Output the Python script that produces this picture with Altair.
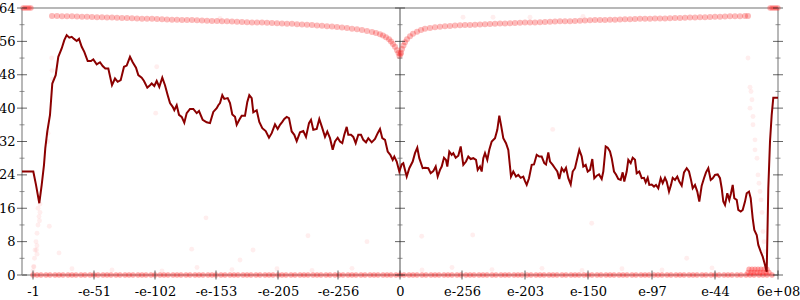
import json
import altair as alt
import pandas as pd

# ---------------- data (x in ordinal units 0..756 across the plot) ----------------
X_MAX = 756
Y_MAX = 64
x_ticks = [11, 72, 133, 194, 256, 316, 378, 440, 503, 566, 630, 693, 756]
x_labels = ["-1", "-e-51", "-e-102", "-e-153", "-e-205", "-e-256", "0",
            "e-256", "e-203", "e-150", "e-97", "e-44", "6e+08"]
y_major = [0, 8, 16, 24, 32, 40, 48, 56, 64]
y_minor = [4, 12, 20, 28, 36, 44, 52, 60]
axis_positions = [0, 378, 756]

line_x = [0, 11.3, 14, 17.3, 19.7, 22, 23.3, 25.3, 28, 30.3, 33.7, 36.3, 39.7, 42.3, 44.7,
          47.3, 49.7, 52, 54.7, 57, 59.7, 62.3, 65.7, 69, 71.3, 74.7, 78, 80.7, 83.3, 86.3,
          90, 93, 95.7, 98.7, 102, 104.7, 108, 110.7, 114, 116.3, 119.7, 122, 125.3, 128,
          129.7, 132.3, 134.7, 137.3, 140.3, 143, 145.7, 148, 150.7, 152.3, 154.7, 157,
          159.7, 162.3, 164.7, 168, 171.3, 174.7, 177, 180.7, 184.7,
          188, 191.3, 194.7, 196.3, 198, 200.3, 202.3, 205.7, 208, 210.3, 213, 214.7, 217.3,
          219.7, 223, 225.3, 227.3, 229.7, 231.3, 234.7, 237.3, 240.3, 243.7, 247, 249.7, 253,
          255.7, 258, 260.3, 262.3, 264.7, 267, 269.7, 272.3, 274.7, 278, 281.3, 284, 287, 289,
          291.3, 294.7, 297.3, 300.3, 303, 305.3, 308, 310.7, 313, 315.7, 318, 320.3, 322.3,
          324.7, 326.3, 329, 331.3, 333.7, 336.3, 339, 341.3, 344, 346.3, 349.7, 353, 355.7,
          358, 360.3, 363, 365.7, 368.3, 370.7, 372.3, 374.7, 377.3, 379.7,
          381.3, 384.7, 387.3, 390.7, 393, 395.3, 397.3, 400.7, 403, 406.3, 408.7, 411.3,
          413.7, 415.7, 418, 419.7, 422, 424, 425.3, 427.3, 429.7, 431.3, 433.7, 436.3, 438.7,
          441.3, 444, 446.3, 448.7, 451.3, 454, 455.7, 458, 459.7, 461.3, 463, 465.3, 467.3,
          469.7, 473, 475.3, 477.3, 479, 481.3, 484, 486.3, 489, 491.3, 494, 496.3, 498.7,
          501.3, 503, 504.7, 507, 509.7, 512, 514.7, 517.3, 519.7, 522.3, 524, 526.3, 528,
          530.7, 533, 535.3, 537.3, 539.7, 542, 544, 546.3, 548.7, 550.7, 553, 555.3, 557.3,
          559.7, 561.3, 563.7, 565.7, 568,
          570.3, 572.3, 574.7, 577, 579.7, 581.3, 583.7, 585.7, 588, 589.7, 592, 594, 596.3,
          598.7, 600.7, 602.3, 604.7, 606.3, 608.7, 610.7, 613, 614.7, 617.3, 619.7, 622,
          623.7, 625.7, 627.3, 629.7, 632, 634, 636.3, 638.7, 640.7, 643, 644.7, 647, 649,
          650.7, 653, 655.3, 657.3, 659.7, 662, 664.7, 667, 669, 670.7, 673, 675.3, 677.3,
          679.7, 682, 684, 686.3, 688.7, 690.7, 693, 695.7, 698, 699.7, 701.3, 703, 705.3,
          707.3, 709, 710.7, 712.3, 714.7, 716.3, 718.7, 720.7, 723, 724.7, 727, 728.7, 730.7,
          732.3, 734.7, 736.3, 738.7, 740.7, 743, 744.7, 746.3, 748, 749.7, 751.3, 756]
line_y = [24.8, 24.8, 21.6, 17.2, 21.6, 26.4, 30.4, 34.4, 38.4, 45.9, 47.9, 52.3, 54.3, 56.3, 57.5,
          56.9, 57.1, 56.6, 56.1, 56.6, 54.7, 53.5, 51.3, 51.3, 51.7, 50.5, 51.0, 50.1, 49.5, 49.5,
          45.5, 47.1, 46.3, 46.7, 49.9, 50.2, 52.3, 51.0, 49.7, 47.9, 47.3, 46.5, 44.9, 45.5,
          45.9, 45.3, 46.5, 45.1, 47.3, 45.5, 43.1, 41.2, 40.3, 39.5, 40.7, 38.4,
          37.9, 36.5, 38.8, 39.8, 39.8, 38.8, 39.3, 37.2, 36.6,
          36.4, 39.1, 40.0, 40.7, 41.2, 43.1, 42.2, 42.4, 41.2, 38.5, 37.9, 36.0, 37.2,
          38.2, 38.2, 41.5, 43.1, 42.4, 39.0, 39.5, 36.7, 35.2, 34.5, 32.9, 34.0, 36.1,
          35.0, 36.0, 36.7, 37.4, 37.9, 37.6, 34.4, 33.6, 32.1, 34.2, 34.5, 33.1, 36.4, 37.2,
          34.8, 35.0, 37.4, 35.2, 33.1, 34.4, 32.8, 30.0, 32.0, 32.9, 32.0, 31.6, 33.6,
          35.5, 33.6, 33.6, 33.1, 31.6, 33.6, 33.6, 32.4, 31.8, 32.8, 31.8, 32.6, 34.0,
          35.0, 32.8, 32.4, 29.6, 28.8, 27.6, 28.4, 27.2, 24.8, 26.5,
          26.8, 23.6, 25.6, 27.2, 29.2, 30.5, 28.0, 25.6, 25.7, 25.6, 24.4, 24.9,
          26.0, 23.6, 25.2, 26.0, 28.1, 27.6, 26.0, 29.6, 28.8, 29.2, 28.1, 28.6, 30.8,
          26.4, 27.2, 28.4, 27.8, 28.0, 27.6, 25.2, 26.0, 24.8, 28.0, 29.2, 27.6, 30.0,
          32.0, 32.8, 34.8, 38.2, 36.0, 32.8, 31.6, 30.0, 23.6, 24.8, 23.6, 24.0, 23.3,
          23.6, 22.5, 21.6, 23.2, 26.4, 26.5, 28.8, 28.4, 28.4, 26.8, 26.5, 29.4, 27.2,
          26.4, 25.6, 24.8, 23.0, 25.6, 24.8, 25.7, 23.2, 21.7, 24.8, 25.6, 28.0, 30.0,
          28.4, 26.0, 26.4, 24.8, 25.2,
          27.8, 23.2, 23.8, 24.1, 23.0, 24.8, 30.8, 30.5, 29.6, 28.0, 24.8, 24.1, 23.0,
          22.8, 24.6, 22.4, 24.8, 27.6, 26.8, 28.1, 27.6, 24.4, 24.8, 23.2, 23.3,
          22.2, 23.3, 21.6, 21.7, 21.2, 21.6, 20.8, 23.2, 22.0, 23.3, 22.4, 20.0, 21.6,
          23.3, 22.8, 23.6, 22.4, 21.4, 24.6, 25.6, 24.8, 22.8, 20.8, 21.6, 20.0, 17.6,
          21.4, 23.2, 24.6, 25.6, 22.8, 23.2, 24.0, 24.1, 23.2, 20.8, 17.6, 16.8, 19.6,
          18.0, 19.6, 21.6, 18.4, 18.0, 15.6, 15.2, 15.6, 17.6, 19.6, 20.0, 18.4, 13.6,
          10.8, 9.6, 7.2, 5.6, 4.4, 2.4, 0.8, 20.8, 32.0, 38.4, 42.5, 42.5]

band_left_x = [30, 35, 40, 45, 50, 55, 60, 65, 70, 75, 80, 85, 90, 95, 100, 105, 110, 115, 120,
               125, 130, 135, 140, 145, 150, 155, 160, 165, 170, 175, 180, 185, 190, 195, 200,
               205, 210, 215, 220, 225, 230, 235, 240, 245, 250, 255, 260, 265, 270, 275, 280,
               285, 290, 295, 300, 305, 310, 315, 320, 325, 330, 335, 340, 345, 350, 354, 358,
               361, 364, 367, 369, 371, 373, 375, 376.5, 377.5]
band_left_y = [62.1, 62.1, 62.05, 62.0, 62.0, 61.95, 61.9, 61.9, 61.85, 61.8, 61.8, 61.75, 61.7,
               61.65, 61.6, 61.6, 61.55, 61.5, 61.45, 61.4, 61.4, 61.35, 61.3, 61.25, 61.2, 61.2,
               61.15, 61.1, 61.1, 61.05, 61.0, 60.95, 60.9, 60.9, 60.85, 60.8, 60.75, 60.7, 60.65,
               60.6, 60.55, 60.5, 60.5, 60.45, 60.4, 60.35, 60.3, 60.25, 60.2, 60.1, 60.05, 60.0,
               59.9, 59.8, 59.75, 59.65, 59.55, 59.45, 59.35, 59.2, 59.05, 58.9, 58.7, 58.5,
               58.25, 58.0, 57.7, 57.4, 57.0, 56.5, 56.0, 55.4, 54.7, 53.9, 53.2, 52.5]
band_right_x = [378.5, 379, 380, 381.5, 383, 385, 388, 391, 395, 399, 403, 408, 413, 418, 423,
                428, 433, 438, 443, 448, 453, 458, 463, 468, 473, 478, 483, 488, 493, 498, 503,
                508, 513, 518, 523, 528, 533, 538, 543, 548, 553, 558, 563, 568, 573, 578, 583,
                588, 593, 598, 603, 608, 613, 618, 623, 628, 633, 638, 643, 648, 653, 658, 663,
                668, 673, 678, 683, 688, 693, 698, 703, 708, 713, 718, 723, 726]
band_right_y = [53.0, 53.3, 54.2, 55.0, 55.8, 56.5, 57.2, 57.8, 58.3, 58.7, 59.0, 59.2, 59.4,
                59.5, 59.6, 59.7, 59.8, 59.85, 59.9, 59.95, 60.0, 60.05, 60.1, 60.15, 60.2, 60.3,
                60.3, 60.35, 60.4, 60.45, 60.5, 60.5, 60.55, 60.6, 60.65, 60.7, 60.75, 60.8,
                60.8, 60.85, 60.9, 60.95, 61.0, 61.05, 61.1, 61.1, 61.15, 61.2, 61.2, 61.25,
                61.3, 61.3, 61.35, 61.4, 61.4, 61.45, 61.5, 61.5, 61.5, 61.55, 61.6, 61.6,
                61.65, 61.7, 61.75, 61.8, 61.8, 61.85, 61.9, 61.9, 61.95, 62.0, 62.0, 62.05,
                62.1, 62.1]

zero_x = [11, 15, 19, 24, 28, 33, 37, 41, 46, 50, 54, 59, 63, 68, 72, 76, 81, 85, 89, 94, 98,
          103, 107, 111, 116, 120, 124, 129, 133, 138, 142, 146, 151, 155, 159, 164, 168, 173,
          177, 181, 186, 190, 194, 199, 203, 208, 212, 216, 221, 225, 229, 234, 238, 243, 247,
          251, 256, 260, 264, 269, 273, 278, 282, 286, 291, 295, 299, 304, 308, 313, 317, 321,
          326, 330, 334, 339, 343, 348, 352, 356, 361, 365, 369, 374, 378, 382, 387, 391, 395,
          400, 404, 409, 413, 417, 422, 426, 430, 435, 439, 444, 448, 452, 457, 461, 465, 470,
          474, 479, 483, 487, 492, 496, 500, 505, 509, 514, 518, 522, 527, 531, 535, 540, 544,
          549, 553, 557, 562, 566, 570, 575, 579, 584, 588, 592, 597, 601, 605, 610, 614, 619,
          623, 627, 632, 636, 640, 645, 649, 654, 658, 662, 667, 671, 675, 680, 684, 689, 693,
          697, 702, 706, 710, 715, 719, 724, 728, 732, 737, 741, 745, 750]

corner_x = [1, 3, 5, 7, 9, 748, 750, 752, 754, 756]
corner_y = [64, 64, 64, 64, 64, 64, 64, 64, 64, 64]

cluster_x = [726, 729, 732, 735, 738, 741, 744, 747, 727, 730, 733, 736, 739, 742, 745]
cluster_y = [0.6, 0.6, 0.6, 0.6, 0.6, 0.6, 0.6, 0.6, 1.4, 1.4, 1.4, 1.4, 1.4, 1.4, 1.4]

faint_x = [29.7, 30, 30.5, 26, 25.5, 18, 18, 17.5, 15, 14.5, 15, 11.5, 11, 16, 17, 16, 15, 14,
           13, 12.5, 12, 27.3, 37, 726, 728, 730, 731, 733, 728, 731, 735, 736, 738, 740, 741,
           743, 729, 733, 737, 739, 742, 744, 134.7, 133.7, 184, 169.7, 231, 286, 345, 218,
           530.7, 399.7, 450.7, 569.7, 664.7, 441, 471, 508, 561, 198, 50, 90, 140, 175, 210,
           255, 290, 330, 400, 430, 470, 520, 560, 600, 640, 690]
faint_y = [52, 49, 47, 34, 32, 17, 15, 13, 7, 6, 5, 2, 1, 16, 14, 12, 10, 8, 6, 4, 2, 11.7,
           5.3, 52, 45, 42, 38, 32.4, 40, 36, 28, 24, 20, 15, 10.4, 5.6, 44, 30, 22, 18, 8, 3,
           49.9, 38.8, 13.7, 6.2, 6.0, 9.4, 8.0, 3.6, 34.9, 9.3, 9.6, 12.4, 4.0, 61.8, 61.8,
           61.8, 62.0, 61.5, 1.5, 1.2, 1.0, 1.8, 1.3, 1.5, 1.1, 1.6, 1.2, 1.8, 1.3, 1.6, 1.1,
           1.5, 1.2, 1.7]

# ---------------- tables ----------------
line_df = pd.DataFrame({"x": line_x, "y": line_y})
band_df = pd.DataFrame({"x": band_left_x + band_right_x, "y": band_left_y + band_right_y})
zero_df = pd.DataFrame({"x": zero_x, "y": [0] * len(zero_x)})
corner_df = pd.DataFrame({"x": corner_x + cluster_x, "y": corner_y + cluster_y})
faint_df = pd.DataFrame({"x": faint_x, "y": faint_y})
vborder_df = pd.DataFrame({"x": [0, X_MAX], "y": [0, 0], "y2": [Y_MAX, Y_MAX]})
mid_df = pd.DataFrame({"x": [x_ticks[6]], "y": [0], "y2": [Y_MAX]})
hborder_df = pd.DataFrame({"x": [0, 0], "x2": [X_MAX, X_MAX], "y": [0, Y_MAX]})
ymaj_df = pd.DataFrame([{"x": p, "y": v} for p in axis_positions for v in y_major])
ymin_df = pd.DataFrame([{"x": p, "y": v} for p in axis_positions for v in y_minor])
xtick_df = pd.DataFrame({"x": x_ticks, "y": [0] * len(x_ticks)})

xs = alt.Scale(domain=[0, X_MAX], nice=False, zero=False)
ys = alt.Scale(domain=[0, Y_MAX], nice=False, zero=False)

label_expr = "%s[indexof(%s, datum.value)]" % (json.dumps(x_labels), json.dumps(x_ticks))
FONT = "DejaVu Serif"

AX_X = alt.Axis(values=x_ticks, labelExpr=label_expr, ticks=False, domain=False, grid=False,
                labelFont=FONT, labelFontSize=13, labelColor="#000", labelPadding=10,
                labelFlush=False, labelOverlap=False, title=None)
AX_Y = alt.Axis(values=y_major, ticks=False, domain=False, grid=False,
                labelFont=FONT, labelFontSize=13, labelColor="#000", labelPadding=7,
                labelFlush=False, labelOverlap=False, title=None)


def X():
    return alt.X("x:Q", scale=xs, axis=AX_X)


def Y():
    return alt.Y("y:Q", scale=ys, axis=AX_Y)


vborders = alt.Chart(vborder_df).mark_rule(color="#b8b8b8", strokeWidth=2).encode(
    x=X(), y=Y(), y2="y2:Q")
hborders = alt.Chart(hborder_df).mark_rule(color="#b8b8b8", strokeWidth=2).encode(
    x=X(), x2="x2:Q", y=Y())
mid = alt.Chart(mid_df).mark_rule(color="#8a8a8a", strokeWidth=1.5).encode(
    x=X(), y=Y(), y2="y2:Q")
ymaj = alt.Chart(ymaj_df).mark_tick(orient="horizontal", size=10, thickness=1, color="#222").encode(
    x=X(), y=Y())
ymin = alt.Chart(ymin_df).mark_tick(orient="horizontal", size=5, thickness=1, color="#666").encode(
    x=X(), y=Y())
xt = alt.Chart(xtick_df).mark_tick(orient="vertical", size=9, thickness=1, color="#222").encode(
    x=X(), y=Y())

faint = alt.Chart(faint_df).mark_circle(size=24, color="#ff2020", opacity=0.08).encode(x=X(), y=Y())
band = alt.Chart(band_df).mark_circle(size=36, color="#f52525", opacity=0.32).encode(x=X(), y=Y())
zero = alt.Chart(zero_df).mark_circle(size=30, color="#ff2020", opacity=0.4).encode(x=X(), y=Y())
corner = alt.Chart(corner_df).mark_circle(size=28, color="#ff2020", opacity=0.35).encode(x=X(), y=Y())

line = alt.Chart(line_df).mark_line(color="#8b0000", strokeWidth=2).encode(
    x=X(), y=Y(), order="x:Q")

chart = alt.layer(
    vborders, hborders, mid, faint, band, zero, corner, ymin, ymaj, xt, line
).properties(
    width=756, height=267,
    padding={"left": 22, "top": 8, "right": 22, "bottom": 25},
    autosize=alt.AutoSizeParams(type="none"),
).configure_view(stroke=None)

chart.save("out.html", embed_options={"renderer": "svg", "actions": False})
